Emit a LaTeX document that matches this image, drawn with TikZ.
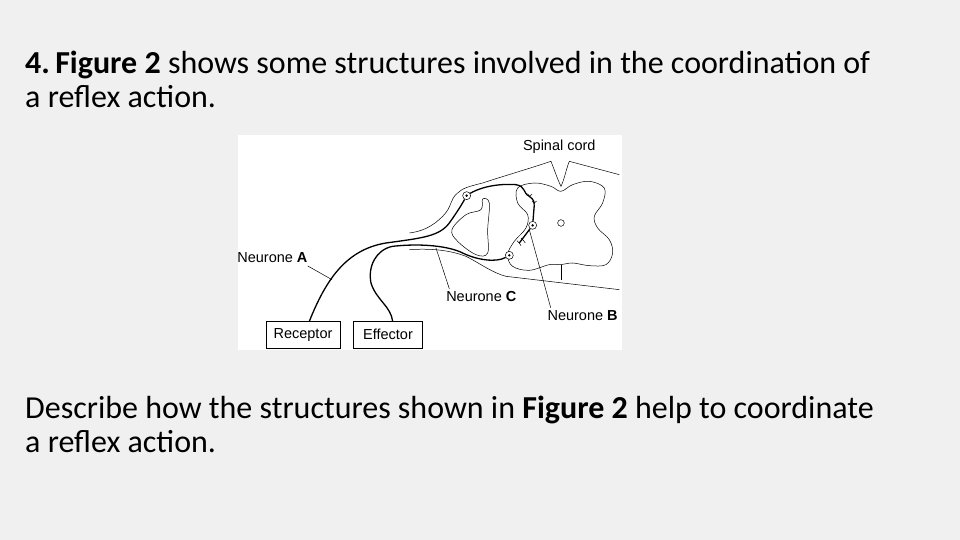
\documentclass[tikz,border=0pt]{standalone}
\usepackage{fontspec}
\setmainfont{Carlito}
\newfontfamily\figfont{Liberation Sans}
\begin{document}
\begin{tikzpicture}[x=1pt,y=-1pt,
  txt/.style={anchor=base west,inner sep=0pt,font=\fontsize{32}{38}\selectfont},
  lab/.style={inner sep=0pt,font=\figfont\fontsize{14.5}{17}\selectfont},
  thin/.style={line width=0.5pt},
  nerve/.style={line width=1.3pt},
  cell/.style={circle,draw,line width=0.5pt,fill=white,minimum size=8pt,inner sep=0pt}]
\fill[gray!12] (0,0) rectangle (960,540);
\useasboundingbox (0,0) rectangle (960,540);
\node[txt] (t1) at (25,74) {\textbf{4.\,Figure 2} shows some structures involved in the coordination of};
\node[txt] (t2) at (25,108) {a reflex action.};
\node[txt] (t3) at (25,418) {Describe how the structures shown in \textbf{Figure 2} help to coordinate};
\node[txt] (t4) at (25,452) {a reflex action.};
\fill[white] (238,135) rectangle (622,350);
\begin{scope}[shift={(236,133)},x=0.3333pt,y=-0.3333pt]
 % outer outline
 \draw[thin] (1150,125) -- (1000,85) .. controls (990,110) and (985,140) .. (975,160)
   .. controls (965,140) and (955,110) .. (945,85)
   .. controls (870,110) and (800,130) .. (740,150) .. controls (700,160) and (680,165) .. (665,180)
   .. controls (640,200) and (650,220) .. (620,250) .. controls (590,280) and (560,295) .. (520,300);
 \draw[thin] (520,350) .. controls (600,345) and (650,355) .. (690,370)
   .. controls (730,390) and (770,420) .. (810,430) -- (1150,470);
 \draw[thin] (975,395) -- (975,440);
 % grey matter
 \draw[thin] plot[smooth cycle,tension=0.6] coordinates {(975,175) (1010,155) (1060,145) (1105,165) (1100,210) (1075,250) (1085,285) (1120,320) (1130,360) (1110,395) (1060,398) (1010,390) (975,395) (940,395) (880,412) (830,400) (815,365) (835,325) (870,285) (875,245) (845,210) (845,165) (895,150) (945,160)};
 \draw[thin] (975,270) circle (10);
 % inner shape
 \draw[thin] plot[smooth cycle,tension=0.6] coordinates {(740,198) (760,210) (755,290) (755,360) (720,365) (665,325) (648,290) (690,245) (735,230)};
 % neurones
 \node[cell] (ca) at (692,188) {};
 \node[cell] (cb) at (890,277) {};
 \node[cell] (cc) at (820,367) {};
 \fill (ca.center) circle (4) (cb.center) circle (4) (cc.center) circle (4);
 \coordinate (rt) at (220,565);
 \coordinate (et) at (470,565);
 \draw[nerve] (rt) .. controls (270,440) and (330,350) .. (450,330) .. controls (560,315) and (610,310) .. (640,270)
   .. controls (665,235) and (680,210) .. (ca);
 \draw[nerve] (ca) .. controls (720,170) and (770,150) .. (840,155) .. controls (870,160) and (860,180) .. (880,190)
   .. controls (895,200) and (895,210) .. (895,215);
 \draw[thin] (880,190) -- (875,182) (880,190) -- (888,184) (895,210) -- (888,205) (895,210) -- (902,204);
 \draw[nerve] (895,215) -- (cb);
 \draw[nerve] (cb) -- (850,330);
 \draw[thin] (850,330) -- (843,323) (850,330) -- (855,338) (862,322) -- (855,315) (862,322) -- (868,330);
 \draw[nerve] (cc) .. controls (780,390) and (720,380) .. (680,360) .. controls (640,340) and (560,330) .. (470,340)
   .. controls (420,350) and (395,400) .. (405,450) .. controls (420,500) and (465,520) .. (et);
 % boxes
 \node[draw,thin,minimum width=74pt,minimum height=27pt,lab] (rec) at (201,605) {Receptor};
 \node[draw,thin,minimum width=69pt,minimum height=27pt,lab] (eff) at (456,605) {Effector};
 % labels
 \node[lab,anchor=center] (sc) at (970,40) {Spinal cord};
 \node[lab,anchor=east] (na) at (215,375) {Neurone \textbf{A}};
 \node[lab,anchor=center] (nc) at (736,490) {Neurone \textbf{C}};
 \node[lab,anchor=center] (nb) at (1040,548) {Neurone \textbf{B}};
 \coordinate (pa) at (288,440);
 \coordinate (pc) at (600,345);
 \coordinate (pb) at (880,290);
 \draw[thin] (na.south east) ++(0,8) -- (pa);
 \draw[thin] (nc.north west) ++(10,-6) -- (pc);
 \draw[thin] (nb.north west) ++(10,-8) -- (pb);
\end{scope}
\end{tikzpicture}
\end{document}
